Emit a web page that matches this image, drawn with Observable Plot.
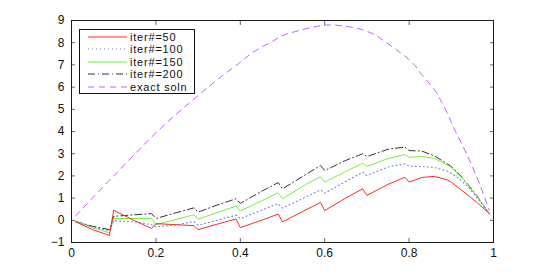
<!DOCTYPE html>
<html>
<head>
<meta charset="utf-8">
<script src="https://cdn.jsdelivr.net/npm/d3@7"></script>
<script src="https://cdn.jsdelivr.net/npm/@observablehq/plot@0.6"></script>
<style>
  html, body { margin: 0; padding: 0; background: #fff; }
  #wrap { position: relative; width: 545px; height: 273px; font-family: "Liberation Sans", Arial, Helvetica, sans-serif; }
  #legend { position: absolute; left: 79px; top: 29px; width: 116px; height: 65px; border: 1px solid #111; background: #fff; box-sizing: border-box; }
  #legend .row { position: absolute; left: 0; height: 12px; width: 113px; }
  #legend svg { position: absolute; left: 7px; top: 0; }
  #legend span { position: absolute; left: 50px; top: 0px; font-size: 11px; letter-spacing: 0.8px; line-height: 12px; color: #111; white-space: nowrap; }
</style>
</head>
<body>
<div id="wrap"></div>
<script>
// Shared x grid of the iterative solutions
const iterX = [0.01, 0.05, 0.09, 0.10, 0.15, 0.19, 0.20, 0.25, 0.29, 0.30, 0.35, 0.39,
  0.40, 0.45, 0.49, 0.50, 0.55, 0.59, 0.60, 0.65, 0.69, 0.70, 0.75, 0.79,
  0.80, 0.83, 0.86, 0.89, 0.90, 0.92, 0.94, 0.96, 0.99];
const iter50 = [-0.07, -0.42, -0.68, 0.45, -0.02, -0.37, -0.15, -0.2, -0.24, -0.42, -0.15, 0.06,
  -0.33, 0.0, 0.28, -0.07, 0.42, 0.8, 0.44, 1.0, 1.42, 1.12, 1.62, 1.94,
  1.72, 1.93, 1.98, 1.82, 1.72, 1.42, 1.12, 0.82, 0.3];
const iter100 = [-0.05, -0.3, -0.48, -0.02, -0.07, -0.2, -0.3, -0.2, -0.05, -0.22, 0.03, 0.23,
  0.08, 0.45, 0.75, 0.55, 1.0, 1.37, 1.22, 1.75, 2.17, 2.02, 2.4, 2.54,
  2.44, 2.42, 2.38, 2.22, 2.12, 1.85, 1.5, 1.05, 0.3];
const iter150 = [-0.05, -0.33, -0.57, 0.08, 0.08, 0.08, -0.2, 0.05, 0.25, 0.05, 0.38, 0.64,
  0.42, 0.87, 1.24, 0.97, 1.55, 1.97, 1.72, 2.2, 2.57, 2.42, 2.78, 2.96,
  2.84, 2.88, 2.78, 2.5, 2.38, 2.02, 1.57, 1.1, 0.3];
const iter200 = [-0.05, -0.27, -0.42, 0.18, 0.25, 0.3, 0.08, 0.35, 0.56, 0.37, 0.72, 0.97,
  0.76, 1.3, 1.7, 1.42, 2.0, 2.47, 2.24, 2.7, 3.0, 2.87, 3.2, 3.3,
  3.14, 3.12, 2.9, 2.55, 2.42, 2.05, 1.6, 1.12, 0.3];
// Exact solution
const exactX = [0.01, 0.1, 0.21, 0.3, 0.35, 0.4, 0.43, 0.48, 0.5, 0.54, 0.58, 0.61, 0.65,
  0.69, 0.72, 0.745, 0.77, 0.795, 0.815, 0.83, 0.85, 0.865, 0.877, 0.89, 0.905, 0.94, 0.97, 0.99];
const exactY = [0.2, 2.0, 4.12, 5.62, 6.4, 7.12, 7.57, 8.1, 8.32, 8.55, 8.73, 8.8, 8.74,
  8.58, 8.34, 8.02, 7.68, 7.32, 6.95, 6.55, 6.12, 5.75, 5.32, 4.85, 4.2, 2.84, 1.49, 0.45];
// Ticks and legend labels
const xTicks = [0, 0.2, 0.4, 0.6, 0.8, 1];
const yTicks = [-1, 0, 1, 2, 3, 4, 5, 6, 7, 8, 9];
const seriesNames = ["iter#=50", "iter#=100", "iter#=150", "iter#=200", "exact soln"];

const styles = [
  {stroke: "#ff2a2a", dash: null},
  {stroke: "#6f7dff", dash: "1,3"},
  {stroke: "#77f03a", dash: null},
  {stroke: "#333333", dash: "7,3,1,3"},
  {stroke: "#c65cff", dash: "6,5"}
];

const mk = (xs, ys) => xs.map((x, i) => ({x, y: ys[i]}));
const iterSeries = [iter50, iter100, iter150, iter200].map(ys => mk(iterX, ys));
const exact = mk(exactX, exactY);

const fmt = d => d === 0 ? "0" : d === 1 ? "1" : String(d);
const axisFont = {fontSize: 12};

const chart = Plot.plot({
  width: 545,
  height: 273,
  marginLeft: 71,
  marginRight: 52,
  marginTop: 20,
  marginBottom: 31,
  style: {fontFamily: "'Liberation Sans', Arial, Helvetica, sans-serif", fontSize: "12px", color: "#111", background: "#fff"},
  x: {domain: [0, 1]},
  y: {domain: [-1, 9]},
  marks: [
    Plot.line(exact, {x: "x", y: "y", stroke: styles[4].stroke, strokeDasharray: styles[4].dash, strokeWidth: 1, curve: "catmull-rom"}),
    Plot.line(iterSeries[3], {x: "x", y: "y", stroke: styles[3].stroke, strokeDasharray: styles[3].dash, strokeWidth: 1}),
    Plot.line(iterSeries[2], {x: "x", y: "y", stroke: styles[2].stroke, strokeWidth: 1}),
    Plot.line(iterSeries[1], {x: "x", y: "y", stroke: styles[1].stroke, strokeDasharray: styles[1].dash, strokeWidth: 1.1}),
    Plot.line(iterSeries[0], {x: "x", y: "y", stroke: styles[0].stroke, strokeWidth: 1}),
    // labels
    Plot.axisX(xTicks, {anchor: "bottom", tickSize: 0, tickPadding: 6, tickFormat: fmt, label: null, ...axisFont}),
    Plot.axisY(yTicks, {anchor: "left", tickSize: 0, tickPadding: 7, label: null, ...axisFont}),
    // inward ticks
    Plot.axisX(xTicks, {anchor: "bottom", tickSize: -4, tickFormat: () => "", label: null, stroke: "#666"}),
    Plot.axisX(xTicks, {anchor: "top", tickSize: -4, tickFormat: () => "", label: null, stroke: "#666"}),
    Plot.axisY(yTicks, {anchor: "left", tickSize: -4, tickFormat: () => "", label: null, stroke: "#666"}),
    Plot.axisY(yTicks, {anchor: "right", tickSize: -4, tickFormat: () => "", label: null, stroke: "#666"}),
    Plot.frame({stroke: "#1a1a1a", strokeWidth: 1})
  ]
});

const wrap = document.getElementById("wrap");
wrap.appendChild(chart);

// Legend overlay
const legend = document.createElement("div");
legend.id = "legend";
seriesNames.forEach((name, i) => {
  const row = document.createElement("div");
  row.className = "row";
  row.style.top = (1 + i * 12.4) + "px";
  const st = styles[i];
  row.innerHTML = `<svg width="41" height="12"><line x1="1" y1="6" x2="40" y2="6" stroke="${st.stroke}" stroke-width="1" ${st.dash ? `stroke-dasharray="${st.dash}"` : ""}/></svg><span>${name}</span>`;
  legend.appendChild(row);
});
wrap.appendChild(legend);
</script>
</body>
</html>
